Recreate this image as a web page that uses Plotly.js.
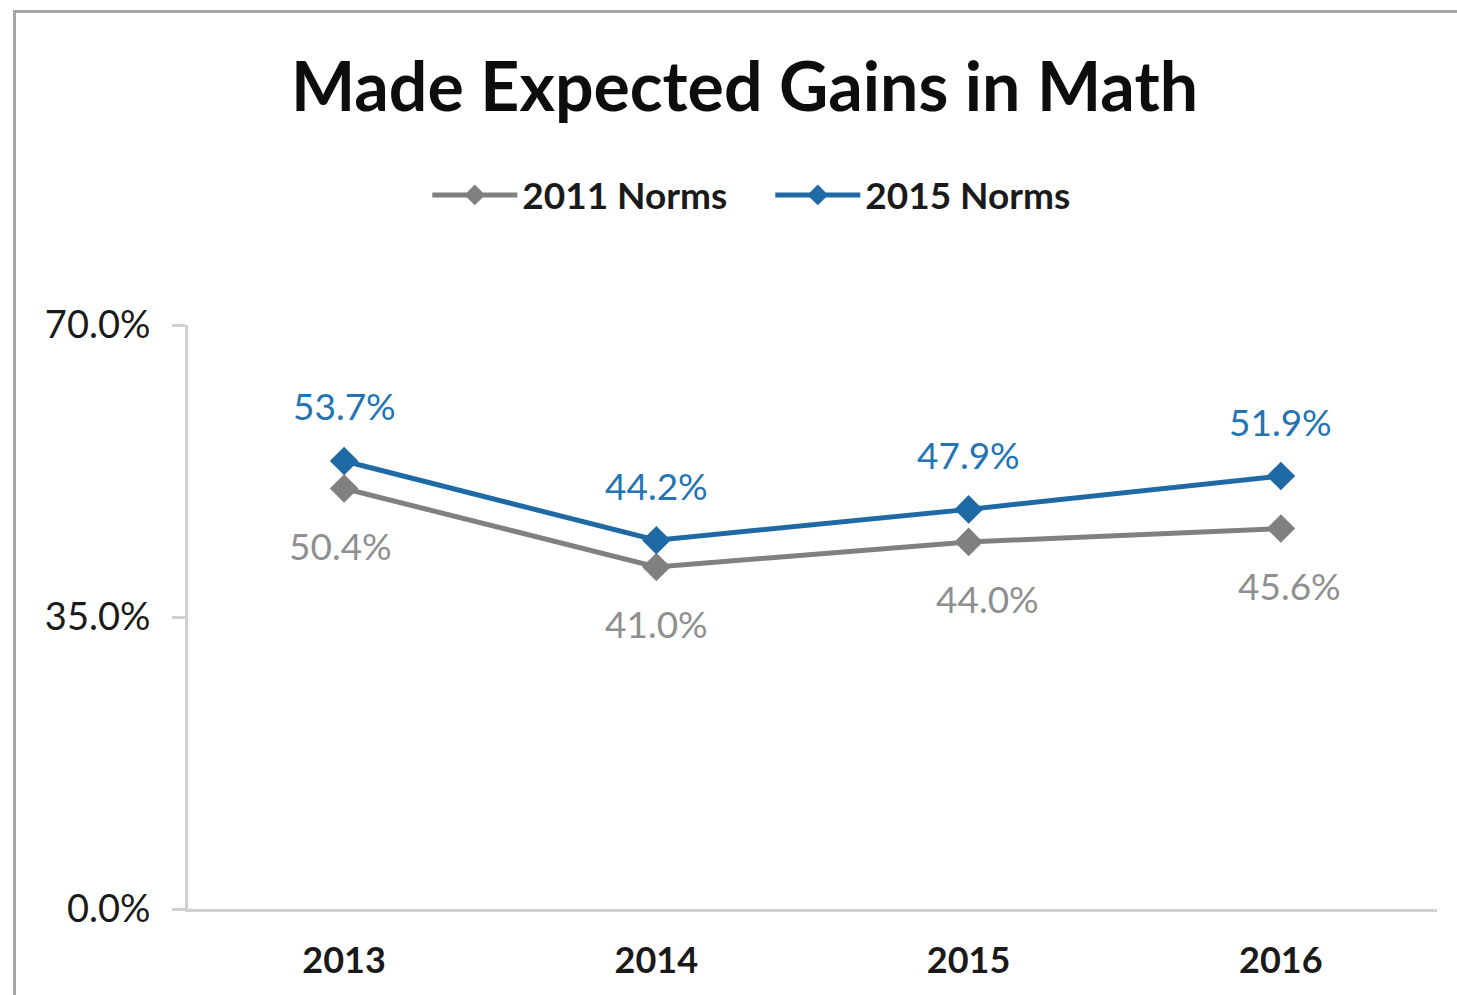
<!DOCTYPE html>
<html>
<head>
<meta charset="utf-8">
<script src="https://cdn.plot.ly/plotly-3.0.1.min.js"></script>
<style>
  html, body { margin: 0; padding: 0; background: #ffffff; }
  #chart { width: 1457px; height: 995px; position: absolute; left: 0; top: 0; }
  #frame { position: absolute; left: 13px; top: 10px; width: 1500px; height: 1100px;
           border-left: 3px solid #a6a6a6; border-top: 3px solid #a6a6a6; pointer-events: none; }
</style>
</head>
<body>
<div id="chart"></div>
<div id="frame"></div>
<script>
const years = ['2013', '2014', '2015', '2016'];
const norms2011 = [50.4, 41.0, 44.0, 45.6];
const norms2015 = [53.7, 44.2, 47.9, 51.9];
const seriesNames = ['2011 Norms', '2015 Norms'];
const yTickVals = [0, 35, 70];

const gray = '#808080';
const grayLabel = '#8f8f8f';
const blue = '#1f6aa5';
const blueLabel = '#2474b4';

const traces = [
  {
    x: years, y: norms2011, name: seriesNames[0], type: 'scatter', mode: 'lines+markers',
    line: { color: gray, width: 5 },
    marker: { symbol: 'diamond', size: 22, color: gray }
  },
  {
    x: years, y: norms2015, name: seriesNames[1], type: 'scatter', mode: 'lines+markers',
    line: { color: blue, width: 5 },
    marker: { symbol: 'diamond', size: 22, color: blue }
  }
];

const grayShiftX = [-4, 0, 19, 9];
const annotations = [];
norms2015.forEach((v, i) => annotations.push({
  x: i, y: v, xref: 'x', yref: 'y', text: v.toFixed(1) + '%', showarrow: false,
  yshift: 55, font: { family: 'Lato', size: 37, color: blueLabel }
}));
norms2011.forEach((v, i) => annotations.push({
  x: i, y: v, xref: 'x', yref: 'y', text: v.toFixed(1) + '%', showarrow: false,
  yshift: -57, xshift: grayShiftX[i], font: { family: 'Lato', size: 37, color: grayLabel }
}));

const layout = {
  width: 1457, height: 995,
  margin: { l: 188, r: 20, t: 325, b: 86, pad: 0 },
  paper_bgcolor: '#ffffff', plot_bgcolor: '#ffffff',
  font: { family: 'Lato', color: '#1a1a1a' },
  title: {
    text: '<b>Made Expected Gains in Math</b>',
    font: { family: 'Lato', size: 68, color: '#0d0d0d' },
    x: 0.511, xanchor: 'center', xref: 'container',
    y: 0.912, yanchor: 'middle', yref: 'container'
  },
  showlegend: true,
  legend: {
    orientation: 'h', x: 0.4662, xanchor: 'center', y: 1.222, yanchor: 'middle',
    font: { family: 'Lato', size: 37, color: '#1a1a1a', weight: 'bold' },
    itemwidth: 85, entrywidth: 243, entrywidthmode: 'pixels',
    tracegroupgap: 0, bgcolor: 'rgba(0,0,0,0)'
  },
  xaxis: {
    type: 'category', range: [-0.5, 3.5],
    showline: true, linecolor: '#d0d0d0', linewidth: 3,
    showgrid: false, zeroline: false, ticks: '',
    tickfont: { family: 'Lato', size: 36, color: '#1a1a1a', weight: 'bold' },
    ticklabelstandoff: 18, fixedrange: true
  },
  yaxis: {
    range: [0, 70], tickvals: yTickVals, ticktext: yTickVals.map(v => v.toFixed(1) + '%'),
    showline: true, linecolor: '#d0d0d0', linewidth: 3,
    ticks: 'outside', ticklen: 13, tickwidth: 3, tickcolor: '#d0d0d0',
    showgrid: false, zeroline: false,
    tickfont: { family: 'Lato', size: 38, color: '#1a1a1a' },
    ticklabelstandoff: 14, fixedrange: true
  },
  annotations: annotations
};

Plotly.newPlot('chart', traces, layout, { displayModeBar: false, staticPlot: true });
</script>
</body>
</html>
